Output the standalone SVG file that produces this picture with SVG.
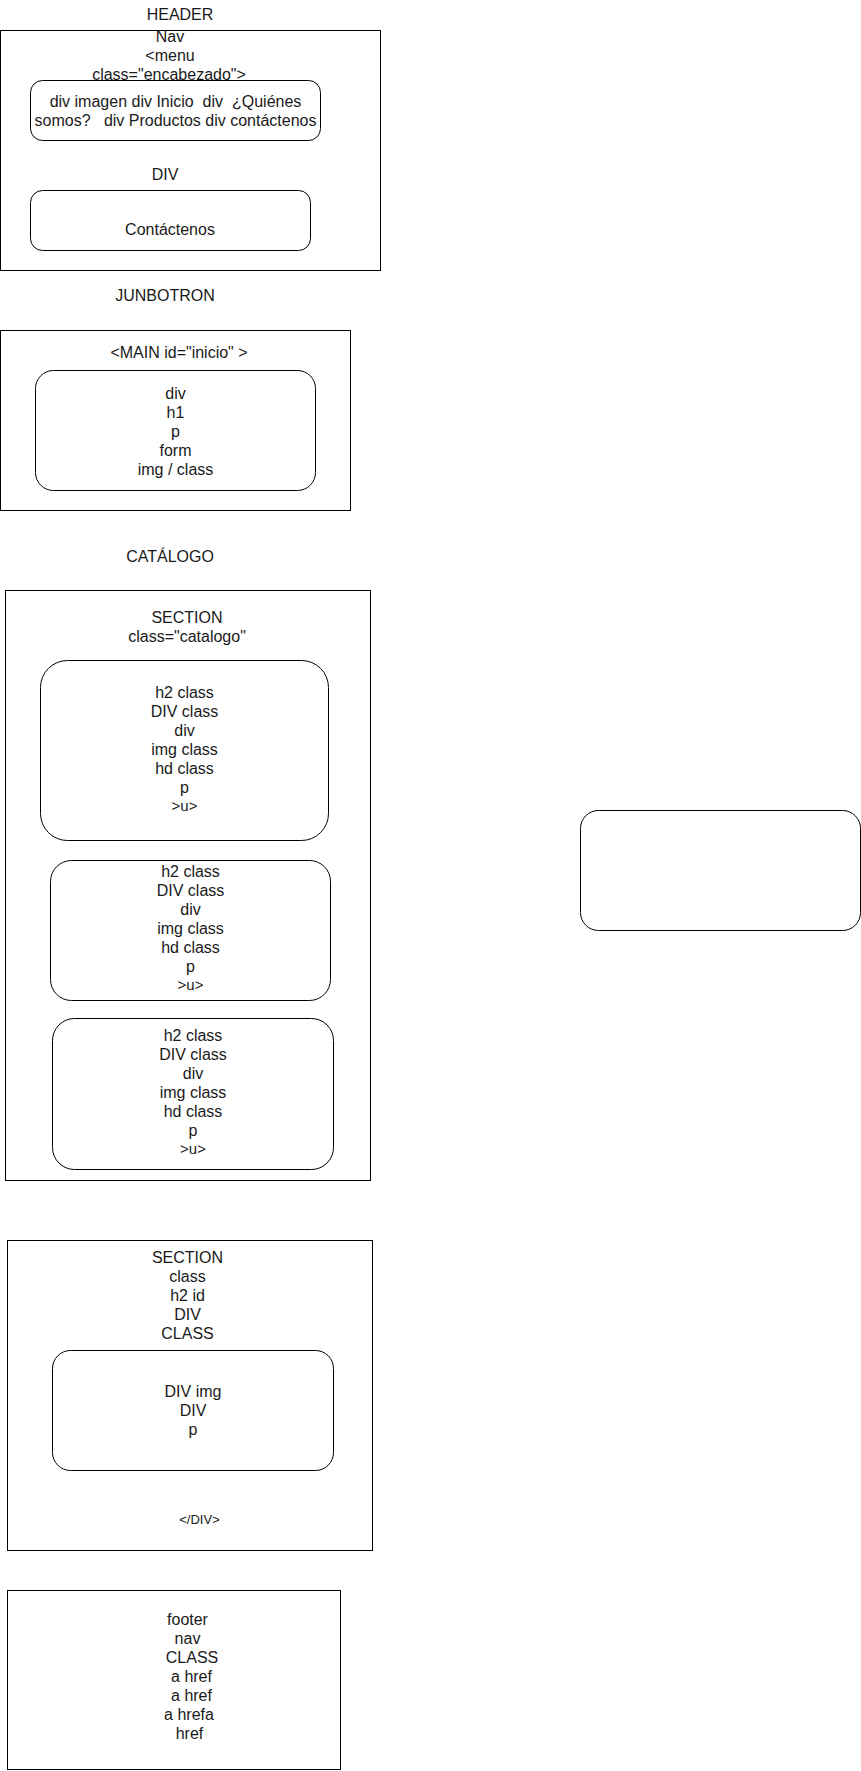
<svg xmlns="http://www.w3.org/2000/svg" width="861" height="1771" viewBox="0 0 861 1771">
<style>
  .box{fill:#fff;stroke:#000;stroke-width:1}
  .t{font-family:"Liberation Sans",Arial,sans-serif;font-size:16px;fill:#1a1a1a;text-anchor:middle;white-space:pre}
  .s{font-size:15px}
  .xs{font-size:13px}
</style>
<rect width="861" height="1771" fill="#fff"/>

<g id="header-label"><text class="t" x="180" y="20">HEADER</text></g>
<g id="header">
  <rect class="box" x="0.5" y="30.5" width="380" height="240"/>
  <text class="t" x="170" y="42">Nav</text>
  <text class="t" x="170" y="61">&lt;menu</text>
  <text class="t" x="169" y="80">class="encabezado"&gt;</text>
</g>
<g id="nav-items">
  <rect class="box" x="30.5" y="80.5" width="290" height="60" rx="12"/>
  <text class="t" x="175.5" y="106.5">div imagen div Inicio  div  ¿Quiénes</text>
  <text class="t" x="175.5" y="125.5">somos?   div Productos div contáctenos</text>
</g>
<g id="div-label"><text class="t" x="165" y="180">DIV</text></g>
<g id="div-contact">
  <rect class="box" x="30.5" y="190.5" width="280" height="60" rx="12"/>
  <text class="t" x="170" y="235">Contáctenos</text>
</g>

<g id="junbotron-label"><text class="t" x="165" y="301">JUNBOTRON</text></g>
<g id="main">
  <rect class="box" x="0.5" y="330.5" width="350" height="180"/>
  <text class="t" x="179" y="357.5">&lt;MAIN id="inicio" &gt;</text>
</g>
<g id="main-inner">
  <rect class="box" x="35.5" y="370.5" width="280" height="120" rx="18"/>
  <text class="t" x="175.5" y="399">div</text>
  <text class="t" x="175.5" y="418">h1</text>
  <text class="t" x="175.5" y="437">p</text>
  <text class="t" x="175.5" y="456">form</text>
  <text class="t" x="175.5" y="475">img / class</text>
</g>

<g id="catalogo-label"><text class="t" x="170" y="561.5">CATÁLOGO</text></g>
<g id="section-catalogo">
  <rect class="box" x="5.5" y="590.5" width="365" height="590"/>
  <text class="t" x="187" y="622.5">SECTION</text>
  <text class="t" x="187" y="641.5">class="catalogo"</text>
</g>
<g id="card1">
  <rect class="box" x="40.5" y="660.5" width="288" height="180" rx="27"/>
  <text class="t" x="184.5" y="698">h2 class</text>
  <text class="t" x="184.5" y="717">DIV class</text>
  <text class="t" x="184.5" y="736">div</text>
  <text class="t" x="184.5" y="755">img class</text>
  <text class="t" x="184.5" y="774">hd class</text>
  <text class="t" x="184.5" y="793">p</text>
  <text class="t s" x="184.5" y="811">&gt;u&gt;</text>
</g>
<g id="card2">
  <rect class="box" x="50.5" y="860.5" width="280" height="140" rx="21"/>
  <text class="t" x="190.5" y="877">h2 class</text>
  <text class="t" x="190.5" y="896">DIV class</text>
  <text class="t" x="190.5" y="915">div</text>
  <text class="t" x="190.5" y="934">img class</text>
  <text class="t" x="190.5" y="953">hd class</text>
  <text class="t" x="190.5" y="972">p</text>
  <text class="t s" x="190.5" y="990">&gt;u&gt;</text>
</g>
<g id="card3">
  <rect class="box" x="52.5" y="1018.5" width="281" height="151" rx="22"/>
  <text class="t" x="193" y="1041">h2 class</text>
  <text class="t" x="193" y="1060">DIV class</text>
  <text class="t" x="193" y="1079">div</text>
  <text class="t" x="193" y="1098">img class</text>
  <text class="t" x="193" y="1117">hd class</text>
  <text class="t" x="193" y="1136">p</text>
  <text class="t s" x="193" y="1154">&gt;u&gt;</text>
</g>

<g id="empty-box">
  <rect class="box" x="580.5" y="810.5" width="280" height="120" rx="18"/>
</g>

<g id="section2">
  <rect class="box" x="7.5" y="1240.5" width="365" height="310"/>
  <text class="t" x="187.5" y="1263">SECTION</text>
  <text class="t" x="187.5" y="1282">class</text>
  <text class="t" x="187.5" y="1301">h2 id</text>
  <text class="t" x="187.5" y="1320">DIV</text>
  <text class="t" x="187.5" y="1339">CLASS</text>
  <text class="t xs" x="199.5" y="1524">&lt;/DIV&gt;</text>
</g>
<g id="section2-inner">
  <rect class="box" x="52.5" y="1350.5" width="281" height="120" rx="18"/>
  <text class="t" x="193" y="1397">DIV img</text>
  <text class="t" x="193" y="1416">DIV</text>
  <text class="t" x="193" y="1435">p</text>
</g>

<g id="footer">
  <rect class="box" x="7.5" y="1590.5" width="333" height="179"/>
  <text class="t" x="187.5" y="1625">footer</text>
  <text class="t" x="187.5" y="1644">nav</text>
  <text class="t" x="192" y="1663">CLASS</text>
  <text class="t" x="191.5" y="1682">a href</text>
  <text class="t" x="191.5" y="1701">a href</text>
  <text class="t" x="189" y="1720">a hrefa</text>
  <text class="t" x="189.5" y="1739">href</text>
</g>

<g id="connectors"></g>
</svg>
